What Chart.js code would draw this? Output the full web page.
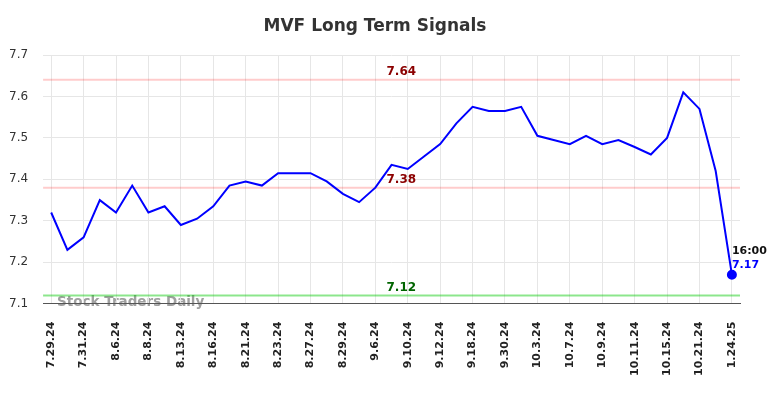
<!DOCTYPE html>
<html>
<head>
<meta charset="utf-8">
<script src="https://cdn.jsdelivr.net/npm/chart.js@4/dist/chart.umd.min.js"></script>
<style>
    html, body { margin: 0; padding: 0; background: #fff; }
    #wrap { width: 784px; height: 398px; }
</style>
</head>
<body>
<div id="wrap"><canvas id="signals"></canvas></div>
<script>
// Tick labels shown on the x axis (every other point)
const tickLabels = ["7.29.24", "7.31.24", "8.6.24", "8.8.24", "8.13.24", "8.16.24", "8.21.24", "8.23.24",
    "8.27.24", "8.29.24", "9.6.24", "9.10.24", "9.12.24", "9.18.24", "9.30.24", "10.3.24", "10.7.24",
    "10.9.24", "10.11.24", "10.15.24", "10.21.24", "1.24.25"];

// Closing prices, one per point
const prices = [7.32, 7.23, 7.26, 7.35, 7.32, 7.385, 7.32, 7.335, 7.29, 7.305, 7.335, 7.385, 7.395,
    7.385, 7.415, 7.415, 7.415, 7.395, 7.365, 7.345, 7.38, 7.435, 7.425, 7.455, 7.485, 7.535, 7.575,
    7.565, 7.565, 7.575, 7.505, 7.495, 7.485, 7.505, 7.485, 7.495, 7.478, 7.46, 7.50, 7.61, 7.57,
    7.42, 7.17];

// Signal levels
const signalLevels = [7.64, 7.38, 7.12];
const signalKinds = ["resistance", "resistance", "support"];

const lastTime = "16:00";
const chartTitle = "MVF Long Term Signals";
const watermark = "Stock Traders Daily";

// one category per point, label only every other one
const categories = prices.map((p, i) => i % 2 === 0 ? tickLabels[i / 2] : "");

const levelColors = {
    resistance: {line: "rgba(255, 0, 0, 0.2)", text: "#8b0000"},
    support: {line: "rgba(0, 200, 0, 0.45)", text: "#006400"}
};

const FONT = "'DejaVu Sans', sans-serif";

// Draws title, watermark, signal lines and last value label
const decorations = {
    id: "decorations",
    beforeDraw(chart) {
        const ctx = chart.ctx;
        const area = chart.chartArea;
        ctx.save();
        ctx.font = "bold 13.5px " + FONT;
        ctx.fillStyle = "rgba(150, 150, 150, 0.9)";
        ctx.textAlign = "left";
        ctx.textBaseline = "middle";
        ctx.fillText(watermark, area.left + 14, area.bottom - 1);
        ctx.restore();
    },
    beforeDatasetsDraw(chart) {
        const ctx = chart.ctx;
        const area = chart.chartArea;
        const y = chart.scales.y;
        ctx.save();
        signalLevels.forEach((lvl, i) => {
            const py = y.getPixelForValue(lvl);
            const c = levelColors[signalKinds[i]];
            ctx.strokeStyle = c.line;
            ctx.lineWidth = 2;
            ctx.beginPath();
            ctx.moveTo(area.left, py);
            ctx.lineTo(area.right, py);
            ctx.stroke();
            ctx.font = "bold 12px " + FONT;
            ctx.fillStyle = c.text;
            ctx.textAlign = "center";
            ctx.textBaseline = "middle";
            ctx.fillText(lvl.toFixed(2), area.left + area.width * 0.514, py - 8);
        });
        ctx.restore();
    },
    afterDraw(chart) {
        const ctx = chart.ctx;
        const meta = chart.getDatasetMeta(0);
        const last = meta.data[meta.data.length - 1];
        ctx.save();
        ctx.font = "bold 17px " + FONT;
        ctx.fillStyle = "#333";
        ctx.textAlign = "center";
        ctx.textBaseline = "middle";
        ctx.fillText(chartTitle, 375, 27);

        ctx.font = "bold 11px " + FONT;
        ctx.textAlign = "left";
        ctx.fillStyle = "#111";
        ctx.fillText(lastTime, last.x, last.y - 24);
        ctx.fillStyle = "#0000ff";
        ctx.fillText(prices[prices.length - 1].toFixed(2), last.x, last.y - 10);
        ctx.restore();
    }
};

const lastIndex = prices.length - 1;

new Chart(document.getElementById("signals"), {
    type: "line",
    data: {
        labels: categories,
        datasets: [{
            data: prices,
            borderColor: "#0000ff",
            backgroundColor: "#0000ff",
            borderWidth: 2,
            tension: 0,
            fill: false,
            pointRadius: ctx => ctx.dataIndex === lastIndex ? 4 : 0,
            pointHoverRadius: 0
        }]
    },
    options: {
        responsive: true,
        maintainAspectRatio: false,
        animation: false,
        layout: {padding: {left: -6, right: 44, top: 55, bottom: 4}},
        plugins: {
            legend: {display: false},
            title: {display: false},
            tooltip: {enabled: false}
        },
        scales: {
            x: {
                offset: true,
                grid: {
                    offset: false,
                    color: "#e6e6e6",
                    drawTicks: false
                },
                border: {display: true, color: "#555", width: 1},
                ticks: {
                    autoSkip: false,
                    maxRotation: 90,
                    minRotation: 90,
                    padding: 18,
                    color: "#222",
                    font: {family: FONT, size: 11, weight: "bold"},
                    callback: function (value, index) {
                        const l = this.getLabelForValue(value);
                        return l === "" ? null : l;
                    }
                }
            },
            y: {
                min: 7.1,
                max: 7.7,
                grid: {color: "#e6e6e6", drawTicks: false},
                border: {display: false},
                ticks: {
                    stepSize: 0.1,
                    padding: 15,
                    color: "#333",
                    font: {family: FONT, size: 12},
                    callback: v => v.toFixed(1)
                }
            }
        }
    },
    plugins: [decorations]
});
</script>
</body>
</html>
